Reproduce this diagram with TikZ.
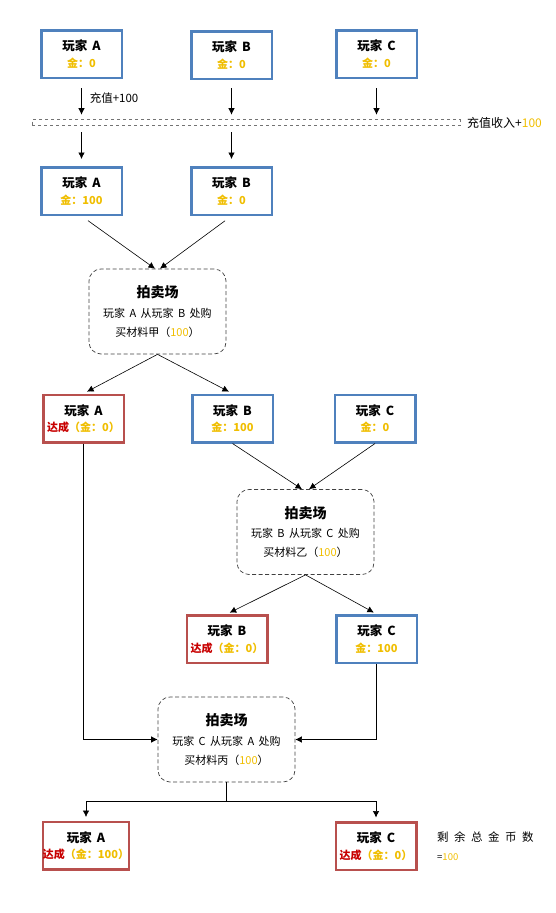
\documentclass[tikz,border=0pt]{standalone}
\usepackage{fontspec}
\setmainfont{Noto Sans CJK SC}
\usetikzlibrary{arrows.meta}
\definecolor{blueb}{RGB}{79,129,189}
\definecolor{redb}{RGB}{184,80,78}
\definecolor{goldt}{RGB}{240,190,0}
\definecolor{redt}{RGB}{200,0,0}
\newcommand{\gs}{\hspace{0.4em}}
\tikzset{
  pbox/.style={draw=blueb, line width=2.5pt, fill=white, minimum width=80.5pt, minimum height=47.5pt, inner sep=0pt, align=center},
  rbox/.style={pbox, draw=redb},
  auct/.style={draw=black!75, dash pattern=on 4pt off 2.5pt, line width=0.7pt, rounded corners=12pt, minimum width=137pt, minimum height=85pt, inner sep=0pt, align=center},
  arr/.style={-{Latex[length=6.5pt,width=6.5pt]}, line width=0.6pt},
  ln/.style={line width=0.6pt},
}
\newcommand{\ptitle}[1]{{\bfseries\fontsize{12.5}{14}\selectfont 玩家\gs #1}}
\newcommand{\gold}[1]{{\bfseries\fontsize{11}{13}\selectfont\color{goldt}#1}}
\newcommand{\doneg}[1]{{\bfseries\fontsize{11}{13}\selectfont\color{redt}达成\color{goldt}（金：#1）}}
\newcommand{\aucttext}[2]{{\bfseries\fontsize{14}{16}\selectfont 拍卖场}\\[7.5pt]{\fontsize{11}{13}\selectfont #1}\\[7pt]{\fontsize{11}{13}\selectfont #2}}
\begin{document}
\begin{tikzpicture}[x=1pt,y=-1pt]
\useasboundingbox (0,0) rectangle (555,913);
% row 1
\node[pbox] (A1) at (81.5,54) {\ptitle{A}\\[4.5pt]\gold{金：0}};
\node[pbox] (B1) at (231.5,55) {\ptitle{B}\\[4.5pt]\gold{金：0}};
\node[pbox] (C1) at (376.5,54) {\ptitle{C}\\[4.5pt]\gold{金：0}};
% band
\node[draw=black!55, dashed, line width=0.6pt, minimum width=428pt, minimum height=6pt, inner sep=0pt] (band) at (246,122.5) {};
\node[anchor=west, font=\fontsize{12}{14}\selectfont, inner sep=0pt] (bandlbl) at (467,123) {充值收入+{\color{goldt}100}};
% row 2
\node[pbox] (A2) at (81.5,191) {\ptitle{A}\\[4.5pt]\gold{金：100}};
\node[pbox] (B2) at (231.5,191) {\ptitle{B}\\[4.5pt]\gold{金：0}};
% arrows around band
\draw[arr, shorten <=9pt, shorten >=4.5pt] (A1.south) -- (A1.south |- band.north)
  node[midway, right=8pt, yshift=1pt, font=\fontsize{11.5}{13}\selectfont, inner sep=0pt] (chz) {充值+100};
\draw[arr, shorten <=8pt, shorten >=4.5pt] (B1.south) -- (B1.south |- band.north);
\draw[arr, shorten <=9pt, shorten >=4.5pt] (C1.south) -- (C1.south |- band.north);
\draw[arr, shorten <=6.5pt, shorten >=7pt] (A2.north |- band.south) -- (A2.north);
\draw[arr, shorten <=6.5pt, shorten >=7pt] (B2.north |- band.south) -- (B2.north);
% auction 1
\node[auct] (Au1) at (157.5,311.5) {\aucttext{玩家\gs A\gs 从玩家\gs B\gs 处购}{买材料甲（{\color{goldt}100}）}};
\draw[arr, shorten <=8pt] (A2.south) -- ([xshift=-2.5pt]Au1.north);
\draw[arr, shorten <=8pt] (B2.south) -- ([xshift=2.5pt]Au1.north);
% row 3
\node[rbox] (A3) at (83.5,418.5) {\ptitle{A}\\[4.5pt]\doneg{0}};
\node[pbox] (B3) at (232.5,418.5) {\ptitle{B}\\[4.5pt]\gold{金：100}};
\node[pbox] (C3) at (375,418.5) {\ptitle{C}\\[4.5pt]\gold{金：0}};
\draw[arr, shorten >=4pt] (Au1.south) -- (A3.north);
\draw[arr, shorten >=4pt] (Au1.south) -- (B3.north);
% auction 2
\node[auct] (Au2) at (305.5,532) {\aucttext{玩家\gs B\gs 从玩家\gs C\gs 处购}{买材料乙（{\color{goldt}100}）}};
\draw[arr] (B3.south) -- ([xshift=-3.5pt]Au2.north);
\draw[arr] (C3.south) -- ([xshift=3.5pt]Au2.north);
% row 4
\node[rbox] (B4) at (227,639) {\ptitle{B}\\[4.5pt]\doneg{0}};
\node[pbox] (C4) at (376.5,639) {\ptitle{C}\\[4.5pt]\gold{金：100}};
\draw[arr, shorten >=3pt] (Au2.south) -- (B4.north);
\draw[arr, shorten >=3pt] (Au2.south) -- (C4.north);
% auction 3
\node[auct] (Au3) at (226.5,739.5) {\aucttext{玩家\gs C\gs 从玩家\gs A\gs 处购}{买材料丙（{\color{goldt}100}）}};
\draw[arr] (A3.south) |- (Au3.west);
\draw[arr] (C4.south) |- (Au3.east);
% row 5
\node[rbox] (A5) at (86,845.5) {\ptitle{A}\\[4.5pt]\doneg{100}};
\node[rbox] (C5) at (376,846) {\ptitle{C}\\[4.5pt]\doneg{0}};
\draw[ln] (Au3.south) -- ++(0,19) coordinate (split);
\draw[arr, shorten >=3.5pt] (split) -| (A5.north);
\draw[arr, shorten >=3.5pt] (split) -| (C5.north);
% total
\node[anchor=north west, align=left, inner sep=0pt, font=\fontsize{11.5}{13}\selectfont] (total) at (437,832) {剩\hspace{5.5pt}余\hspace{5.5pt}总\hspace{5.5pt}金\hspace{5.5pt}币\hspace{5.5pt}数\\[6pt]{\fontsize{9.5}{11}\selectfont =\color{goldt}100}};
\end{tikzpicture}
\end{document}
